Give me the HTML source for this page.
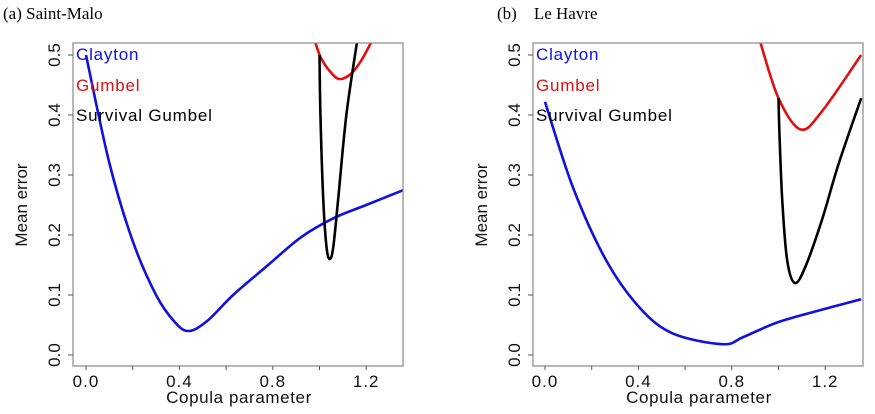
<!DOCTYPE html>
<html><head><meta charset="utf-8">
<style>
body{margin:0;background:#fff;}
svg{display:block;font-family:"Liberation Sans",Arial,sans-serif;}
</style></head>
<body>
<svg id="chart" width="875" height="414" viewBox="0 0 875 414">
<text x="3" y="19" font-family="Liberation Serif,serif" font-size="17">(a) Saint-Malo</text>
<text x="497" y="19" font-family="Liberation Serif,serif" font-size="17" xml:space="preserve">(b)    Le Havre</text>
</svg>
<script>
const xTicks=[0.0,0.4,0.8,1.2];
const xMinor=[0.2,0.6,1.0];
const yTicks=[0.0,0.1,0.2,0.3,0.4,0.5];
const seriesNames=["Clayton","Gumbel","Survival Gumbel"];
const seriesColors=["#1010e0","#e01010","#000000"];
// Saint-Malo
const aClaytonX=[0,0.1,0.2,0.3,0.38,0.44,0.52,0.63,0.78,0.92,1.06,1.2,1.36];
const aClaytonY=[0.5,0.32,0.19,0.1,0.055,0.04,0.057,0.1,0.15,0.196,0.228,0.25,0.275];
const aGumbelX=[0.983,1.004,1.04,1.083,1.133,1.176,1.22];
const aGumbelY=[0.52,0.497,0.475,0.46,0.468,0.489,0.52];
const aSurvX=[1.0,1.004,1.016,1.03,1.044,1.059,1.08,1.115,1.16];
const aSurvY=[0.5,0.4,0.26,0.18,0.16,0.18,0.26,0.4,0.52];
// Le Havre
const bClaytonX=[0,0.12,0.263,0.405,0.547,0.76,0.85,1.0,1.2,1.354];
const bClaytonY=[0.422,0.279,0.157,0.079,0.036,0.018,0.03,0.055,0.077,0.093];
const bGumbelX=[0.923,1.0,1.094,1.186,1.354];
const bGumbelY=[0.52,0.428,0.376,0.406,0.5];
const bSurvX=[1.0,1.004,1.016,1.037,1.07,1.115,1.186,1.257,1.354];
const bSurvY=[0.428,0.37,0.258,0.158,0.12,0.147,0.225,0.318,0.428];

const NS="http://www.w3.org/2000/svg";
const svg=document.getElementById('chart');
function mk(tag,attrs,parent){const e=document.createElementNS(NS,tag);for(const k in attrs)e.setAttribute(k,attrs[k]);(parent||svg).appendChild(e);return e;}
function smooth(pts){let d="M"+pts[0][0]+","+pts[0][1];for(let i=0;i<pts.length-1;i++){const p0=pts[i-1]||pts[i],p1=pts[i],p2=pts[i+1],p3=pts[i+2]||p2;const c1=[p1[0]+(p2[0]-p0[0])/6,p1[1]+(p2[1]-p0[1])/6],c2=[p2[0]-(p3[0]-p1[0])/6,p2[1]-(p3[1]-p1[1])/6];d+=" C"+c1+" "+c2+" "+p2;}return d;}

function panel(id,box,x0,series){
  const [L,T,R,B]=box;
  const sx=v=>x0+v*233.5, sy=v=>355-v*600;
  const g=mk('g',{});
  
  
  const cp=mk('clipPath',{id:id+'clip'},g);mk('rect',{x:L,y:T,width:R-L,height:B-T},cp);
  series.forEach((s,i)=>{
    const pts=s[0].map((v,j)=>[sx(v),sy(s[1][j])]);
    const p=mk('path',{d:smooth(pts),fill:'none',stroke:seriesColors[i],'stroke-width':2.6,'clip-path':'url(#'+id+'clip)'},g);
    
    
  });
  const fr=mk('rect',{x:L,y:T,width:R-L,height:B-T,fill:'none',stroke:'#888','stroke-width':1.2},g);
  
  
  yTicks.forEach(v=>{
    mk('line',{x1:L-5,x2:L,y1:sy(v),y2:sy(v),stroke:'#555'},g);
    const t=mk('text',{transform:`translate(${L-13},${sy(v)}) rotate(-90)`,'text-anchor':'middle','font-size':17,fill:'#111'},g);
    t.textContent=v.toFixed(1);
    
    
  });
  xTicks.concat(xMinor).forEach(v=>mk('line',{x1:sx(v),x2:sx(v),y1:B,y2:B+4,stroke:'#555'},g));
  xTicks.forEach(v=>{
    const t=mk('text',{x:sx(v),y:B+21,'text-anchor':'middle','font-size':17,fill:'#111','letter-spacing':1},g);
    t.textContent=v.toFixed(1);
    
    
  });
  const xt=mk('text',{x:(L+R)/2+1,y:403,'text-anchor':'middle','font-size':17,fill:'#111','letter-spacing':0.6},g);
  xt.textContent='Copula parameter';
  
  
  const yt=mk('text',{transform:`translate(${L-46},205) rotate(-90)`,'text-anchor':'middle','font-size':17,fill:'#111'},g);
  yt.textContent='Mean error';
  
  
  [60,91,121].forEach((y,i)=>{
    const t=mk('text',{x:L+3,y:y,'font-size':17,fill:seriesColors[i],'letter-spacing':0.8},g);
    t.textContent=seriesNames[i];
    
    
  });
}
panel('saint-malo',[73,43,403,366],86,[[aClaytonX,aClaytonY],[aGumbelX,aGumbelY],[aSurvX,aSurvY]]);
panel('le-havre',[533,43,863,366],545,[[bClaytonX,bClaytonY],[bGumbelX,bGumbelY],[bSurvX,bSurvY]]);
</script>
</body></html>
